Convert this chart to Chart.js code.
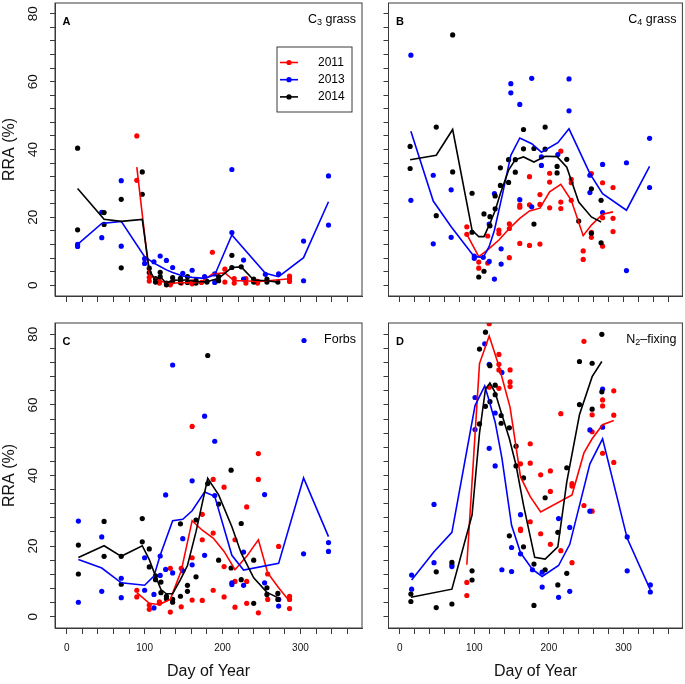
<!DOCTYPE html>
<html>
<head>
<meta charset="utf-8">
<script src="https://cdn.jsdelivr.net/npm/chart.js@4.4.1/dist/chart.umd.min.js"></script>
<style>
html,body{margin:0;padding:0;background:#fff;}
#wrap{position:relative;width:685px;height:684px;overflow:hidden;}
#wrap canvas{position:absolute;left:0;top:0;}
</style>
</head>
<body>
<div id="wrap">
  <canvas id="pA" width="685" height="684"></canvas>
  <canvas id="pB" width="685" height="684"></canvas>
  <canvas id="pC" width="685" height="684"></canvas>
  <canvas id="pD" width="685" height="684"></canvas>
</div>
<script>
// years / colours / ticks
const years = ['2011', '2013', '2014'];
const yearColors = ['#ff0000', '#0000ff', '#000000'];
const xTickLabels = [0, 100, 200, 300];
const yTickLabels = [0, 20, 40, 60, 80];

// [day of year, RRA %] -- A: C3 grass
const ptsA2011 = [[90,44.0],[90,30.9],[106,2.3],[106,1.2],[119,1.1],[119,0.6],[133,0.1],[133,0.6],[147,0.6],[161,0.4],[161,1.0],[173,0.8],[187,9.7],[203,4.7],[203,0.9],[215,1.9],[215,0.6],[230,1.9],[230,0.6],[245,1.1],[245,0.6],[286,2.7],[286,1.9],[286,1.1]];
const ptsA2013 = [[14,12.0],[14,11.4],[45,21.5],[45,14.0],[70,30.8],[70,11.5],[100,7.8],[100,6.4],[112,6.9],[120,8.6],[128,7.3],[136,5.2],[149,3.5],[161,4.4],[177,2.5],[190,3.3],[190,0.8],[212,34.1],[212,15.5],[227,7.4],[227,1.8],[255,3.2],[272,3.3],[304,13.0],[304,1.3],[336,32.2],[336,17.7]];
const ptsA2014 = [[14,40.4],[14,16.3],[48,21.4],[48,17.9],[70,25.3],[70,5.1],[97,33.4],[97,26.8],[106,5.0],[106,3.7],[114,1.9],[114,0.9],[120,3.8],[120,2.5],[128,0.6],[128,0.1],[136,2.2],[136,1.0],[146,2.0],[146,0.8],[155,2.5],[155,0.8],[166,1.4],[166,0.6],[180,1.1],[180,0.9],[195,2.5],[195,1.3],[212,8.8],[212,5.2],[224,5.4],[240,1.8],[240,0.9],[257,1.8],[257,0.9],[271,0.9]];
const lineA2011 = [[90,34.8],[106,3.0],[119,1.2],[133,0.5],[147,0.8],[161,0.6],[173,1.0],[187,3.3],[203,3.6],[215,1.3],[230,1.3],[245,1.0],[286,1.9]];
const lineA2013 = [[14,12.0],[45,18.2],[70,18.8],[100,8.4],[112,6.5],[120,5.5],[128,4.5],[136,3.7],[149,2.7],[161,2.3],[177,2.0],[190,3.0],[212,14.8],[255,3.5],[272,2.5],[304,8.1],[336,24.6]];
const lineA2014 = [[14,28.5],[48,19.4],[70,18.8],[97,19.4],[106,4.4],[114,1.4],[120,2.5],[128,0.5],[136,1.5],[146,1.4],[155,1.6],[166,1.0],[180,1.0],[195,2.0],[212,5.2],[224,5.4],[240,1.5],[257,1.3],[271,0.9]];

// B: C4 grass
const ptsB2011 = [[90,17.2],[90,15.0],[106,6.8],[106,5.0],[118,14.5],[118,6.5],[133,16.2],[133,15.2],[147,18.1],[147,16.7],[147,8.1],[161,23.6],[161,23.0],[161,12.3],[174,32.0],[174,23.7],[174,11.7],[188,26.7],[188,23.8],[188,12.1],[201,33.0],[201,30.4],[201,22.8],[216,39.5],[216,24.5],[216,22.6],[230,31.2],[230,30.2],[230,25.0],[246,10.1],[246,7.6],[257,32.9],[257,15.6],[257,14.1],[272,30.2],[272,19.9],[272,11.5],[286,28.8],[286,19.7],[286,15.8]];
const ptsB2013 = [[15,67.8],[15,25.0],[45,32.4],[45,12.2],[69,28.1],[69,14.1],[100,8.6],[100,7.9],[112,8.2],[120,18.0],[120,7.0],[127,27.0],[127,1.8],[136,10.7],[136,6.2],[149,59.4],[149,56.7],[161,53.3],[161,25.2],[177,61.0],[177,23.1],[190,37.8],[190,35.3],[212,38.5],[227,60.8],[227,51.4],[255,32.4],[255,27.3],[272,35.6],[272,21.4],[304,36.1],[304,4.3],[335,43.3],[335,28.8]];
const ptsB2014 = [[14,40.9],[14,34.4],[49,46.6],[49,20.5],[71,73.8],[71,33.4],[97,27.1],[97,15.6],[106,2.4],[113,21.0],[113,4.1],[121,20.2],[121,17.5],[128,26.3],[128,22.5],[135,34.6],[135,29.4],[146,37.0],[146,30.3],[155,37.0],[155,33.3],[166,45.9],[166,40.2],[180,40.3],[180,18.0],[195,46.6],[195,40.1],[211,35.0],[211,33.1],[224,37.1],[240,18.9],[257,28.4],[257,15.3],[270,25.0],[270,12.5]];
const lineB2011 = [[90,15.0],[106,8.4],[118,10.4],[133,13.3],[147,16.7],[161,19.7],[174,21.9],[188,22.7],[201,27.5],[216,29.7],[230,25.0],[246,14.6],[257,17.7],[272,20.9],[286,21.6]];
const lineB2013 = [[15,45.4],[45,24.8],[69,17.2],[100,8.4],[112,8.2],[120,11.4],[127,16.2],[138,27.0],[149,38.3],[161,43.4],[177,41.7],[190,39.2],[212,42.0],[227,46.1],[255,32.9],[272,27.0],[304,22.1],[335,35.0]];
const lineB2014 = [[14,37.0],[49,38.3],[71,45.9],[97,16.2],[106,14.3],[113,14.3],[121,18.2],[128,22.0],[135,27.0],[146,33.9],[155,37.0],[166,37.8],[180,36.3],[195,38.0],[211,37.9],[224,34.8],[240,24.5],[257,20.1],[270,18.6]];

// C: Forbs
const ptsC2011 = [[90,7.5],[90,5.6],[106,3.3],[106,2.1],[119,4.2],[119,3.8],[133,13.7],[133,1.3],[147,13.7],[147,2.8],[161,53.9],[161,16.7],[161,4.7],[174,29.0],[174,21.8],[174,4.6],[188,38.9],[188,23.7],[188,7.5],[202,36.7],[202,14.2],[202,5.6],[216,21.8],[216,10.0],[216,2.7],[231,31.1],[231,10.0],[231,3.8],[246,46.2],[246,38.9],[246,1.1],[258,12.1],[258,4.9],[272,19.9],[272,4.9],[286,5.8],[286,4.9],[286,2.3]];
const ptsC2013 = [[15,27.1],[15,4.1],[45,22.6],[45,7.2],[70,10.9],[70,5.4],[100,16.7],[100,7.5],[112,6.3],[112,2.5],[120,17.2],[120,11.7],[127,34.5],[127,13.4],[136,71.3],[136,12.4],[149,22.1],[149,13.0],[161,38.5],[161,14.7],[177,56.8],[177,17.4],[190,49.7],[190,34.3],[212,9.6],[212,9.1],[227,18.3],[227,8.9],[254,34.6],[254,9.6],[272,4.9],[272,3.0],[304,17.8],[336,21.0],[336,18.5]];
const ptsC2014 = [[15,20.3],[15,12.1],[48,27.0],[48,17.1],[70,17.1],[70,9.2],[97,27.8],[97,21.2],[106,19.2],[106,14.1],[114,11.6],[114,10.5],[121,9.8],[121,6.8],[128,5.8],[128,5.1],[136,4.9],[136,4.1],[146,26.3],[146,5.8],[155,8.9],[155,7.2],[166,27.4],[166,11.3],[181,74.0],[181,37.7],[195,31.9],[195,16.0],[211,41.5],[211,13.8],[224,26.4],[224,10.5],[240,16.0],[240,3.8],[257,8.2],[257,6.3],[271,6.6],[271,4.9]];
const lineC2011 = [[90,6.8],[106,3.8],[113,3.6],[119,3.5],[133,4.9],[147,13.0],[161,27.2],[174,24.5],[188,22.3],[202,18.5],[216,13.3],[231,17.1],[246,21.8],[258,12.4],[272,8.2],[286,4.4]];
const lineC2013 = [[15,16.2],[45,13.8],[70,9.6],[100,8.9],[112,11.5],[120,17.4],[136,27.2],[149,27.6],[161,30.0],[177,35.3],[190,34.1],[212,17.4],[227,13.2],[272,15.1],[304,39.3],[336,22.7]];
const lineC2014 = [[15,16.8],[48,20.1],[70,17.1],[97,20.1],[106,16.2],[114,11.5],[121,7.7],[128,6.5],[136,6.5],[146,10.5],[155,14.5],[166,24.1],[181,39.2],[195,34.5],[212,25.5],[224,18.0],[240,11.0],[257,6.9],[271,5.4]];

// D: N2-fixing
const ptsD2011 = [[90,9.7],[90,6.0],[120,83.0],[120,65.0],[133,74.3],[133,71.5],[133,69.9],[133,64.7],[148,69.9],[148,66.5],[148,65.2],[162,43.3],[162,24.8],[162,24.4],[175,49.0],[175,43.5],[175,26.9],[189,40.2],[189,23.5],[202,41.3],[202,35.5],[202,20.5],[216,57.5],[216,18.7],[231,37.7],[231,37.0],[231,15.3],[247,78.0],[247,31.5],[258,57.2],[258,52.4],[258,29.9],[272,61.4],[272,59.7],[272,46.3],[287,64.0],[287,57.1],[287,43.7]];
const ptsD2013 = [[16,11.8],[16,7.8],[46,31.8],[46,15.3],[70,14.7],[70,14.2],[101,62.1],[101,53.0],[114,77.3],[120,71.5],[120,47.7],[128,57.7],[128,42.7],[137,69.2],[137,13.3],[150,19.6],[150,12.8],[162,28.9],[162,17.8],[178,13.3],[191,12.6],[191,8.4],[213,27.8],[213,5.5],[228,25.3],[228,7.2],[255,52.9],[255,29.9],[272,64.5],[272,53.7],[305,22.6],[305,13.0],[336,9.0],[336,7.0]];
const ptsD2014 = [[15,6.4],[15,4.3],[49,12.7],[49,2.6],[70,15.4],[70,3.6],[97,13.0],[97,10.4],[107,75.8],[107,54.6],[115,80.6],[115,59.6],[121,71.1],[121,60.9],[128,65.6],[128,62.9],[136,57.0],[136,54.8],[147,53.5],[147,22.9],[156,48.3],[156,42.7],[166,39.3],[166,19.8],[180,14.9],[180,3.2],[195,33.7],[195,13.3],[212,23.9],[212,9.0],[224,42.2],[224,12.3],[241,72.3],[241,60.1],[258,71.8],[258,58.8],[271,80.0],[271,63.7]];
const lineD2011 = [[90,14.7],[107,71.7],[120,79.5],[133,71.0],[148,59.3],[162,39.6],[175,34.0],[189,29.7],[231,34.5],[247,46.4],[258,50.4],[272,54.4],[287,55.6]];
const lineD2013 = [[16,10.4],[46,18.4],[70,23.9],[101,59.8],[114,65.4],[120,61.2],[128,55.1],[137,45.0],[150,25.9],[162,18.1],[178,13.4],[191,11.4],[213,14.5],[228,20.5],[255,43.3],[272,50.4],[305,22.2],[336,7.6]];
const lineD2014 = [[15,5.5],[70,7.8],[97,28.8],[107,52.0],[115,64.5],[121,66.2],[128,63.5],[136,57.9],[147,50.5],[156,42.9],[166,31.6],[181,16.8],[195,16.3],[212,19.8],[224,38.2],[241,57.2],[258,68.0],[271,72.3]];

const FONT = "'Liberation Sans', Arial, Helvetica, sans-serif";
const AXIS = '#3a3a3a';

function toXY(arr){ return arr.map(p => ({x:p[0], y:p[1]})); }

function panelData(pts, lines){
  const ds = [];
  lines.forEach((l,i) => ds.push({ data:toXY(l), showLine:true, borderColor:yearColors[i], backgroundColor:yearColors[i],
    borderWidth:1.6, pointRadius:0, tension:0, clip:0, order:2-i }));
  pts.forEach((p,i) => ds.push({ data:toXY(p), showLine:false, backgroundColor:yearColors[i], borderWidth:0,
    pointRadius:2.6, pointHoverRadius:2.6, clip:0, order:5-i }));
  return ds;
}

// label text with a subscript part, right aligned
function drawParts(ctx, parts, right, y){
  let w = 0;
  parts.forEach(p => { ctx.font = (p.sub ? '9px ' : '12.5px ') + FONT; w += ctx.measureText(p.t).width; });
  let x = right - w;
  parts.forEach(p => {
    ctx.font = (p.sub ? '9px ' : '12.5px ') + FONT;
    ctx.fillText(p.t, x, y + (p.sub ? 3 : 0));
    x += ctx.measureText(p.t).width;
  });
}

function deco(o){
  return { id:'deco', afterDraw(chart){
    const {ctx, chartArea:a} = chart;
    ctx.save();
    ctx.strokeStyle = AXIS; ctx.lineWidth = 1;
    ctx.strokeRect(a.left, a.top, a.right - a.left, a.bottom - a.top);
    ctx.fillStyle = '#000'; ctx.textBaseline = 'middle'; ctx.textAlign = 'left';
    ctx.font = 'bold 11px ' + FONT;
    ctx.fillText(o.letter, a.left + 7.5, a.top + 19);
    if (o.dot){
      ctx.beginPath(); ctx.arc(o.dot[0], o.dot[1], 2.6, 0, Math.PI*2);
      ctx.fillStyle = o.dot[2]; ctx.fill(); ctx.fillStyle = '#000';
    }
    drawParts(ctx, o.label, a.right - 6, a.top + 17);
    if (o.legend){
      const L = o.legend;
      ctx.strokeStyle = AXIS; ctx.lineWidth = 1;
      ctx.strokeRect(L.x, L.y, L.w, L.h);
      ctx.font = '12px ' + FONT;
      years.forEach((yr,i) => {
        const ry = L.y + 15.5 + i*17.2;
        ctx.strokeStyle = yearColors[i]; ctx.lineWidth = 1.6;
        ctx.beginPath(); ctx.moveTo(L.x + 3, ry); ctx.lineTo(L.x + 21, ry); ctx.stroke();
        ctx.beginPath(); ctx.arc(L.x + 12, ry, 2.6, 0, Math.PI*2); ctx.fillStyle = yearColors[i]; ctx.fill();
        ctx.fillStyle = '#000';
        ctx.fillText(yr, L.x + 41, ry);
      });
    }
    ctx.restore();
  }};
}

function panel(id, box, ds, o){
  const yW = o.yLabels ? 55 : 20;
  const xH = o.xLabels ? 56 : 20;
  new Chart(document.getElementById(id), {
    type:'scatter',
    data:{ datasets:ds },
    options:{
      responsive:false, animation:false, events:[],
      layout:{ padding:{ left:box.l - yW, top:box.t, right:685 - box.r, bottom:684 - box.b - xH } },
      plugins:{ legend:{display:false}, tooltip:{enabled:false} },
      scales:{
        x:{ type:'linear', min:-15, max:379,
          afterFit(s){ s.height = xH; s.paddingLeft = 0; s.paddingRight = 0; },
          grid:{ drawOnChartArea:false, tickLength:6, color:AXIS },
          border:{ color:AXIS },
          ticks:{ display:o.xLabels, stepSize:20, includeBounds:false, autoSkip:false, minRotation:0, maxRotation:0,
            padding:8, color:'#111', font:{family:FONT, size:10},
            callback:v => xTickLabels.includes(v) ? String(v) : '' },
          title:{ display:o.xLabels, text:'Day of Year', color:'#111', font:{family:FONT, size:16}, padding:{top:0, bottom:2.4} }
        },
        y:{ type:'linear', min:-3.2, max:83.2,
          afterFit(s){ s.width = yW; s.paddingTop = 0; s.paddingBottom = 0; },
          grid:{ drawOnChartArea:false, tickLength:5, color:AXIS },
          border:{ color:AXIS },
          ticks:{ display:o.yLabels, stepSize:4, includeBounds:false, autoSkip:false, minRotation:90, maxRotation:90,
            crossAlign:'center', padding:9, color:'#111', font:{family:FONT, size:13.5},
            callback:v => yTickLabels.includes(v) ? String(v) : '' },
          title:{ display:o.yLabels, text:'RRA (%)', color:'#111', font:{family:FONT, size:16}, padding:{top:0.4, bottom:0} }
        }
      }
    },
    plugins:[deco(o)]
  });
}

panel('pA', {l:55, t:3, r:362, b:296},
  panelData([ptsA2011, ptsA2013, ptsA2014], [lineA2011, lineA2013, lineA2014]),
  { letter:'A', yLabels:true, xLabels:false, label:[{t:'C'},{t:'3',sub:true},{t:' grass'}],
    legend:{x:277, y:47, w:75, h:65} });
panel('pB', {l:388.5, t:3, r:683, b:296},
  panelData([ptsB2011, ptsB2013, ptsB2014], [lineB2011, lineB2013, lineB2014]),
  { letter:'B', yLabels:false, xLabels:false, label:[{t:'C'},{t:'4',sub:true},{t:' grass'}] });
panel('pC', {l:55, t:323, r:362, b:628},
  panelData([ptsC2011, ptsC2013, ptsC2014], [lineC2011, lineC2013, lineC2014]),
  { letter:'C', yLabels:true, xLabels:true, label:[{t:'Forbs'}], dot:[304, 340.5, '#0000ff'] });
panel('pD', {l:388.5, t:323, r:683, b:628},
  panelData([ptsD2011, ptsD2013, ptsD2014], [lineD2011, lineD2013, lineD2014]),
  { letter:'D', yLabels:false, xLabels:true, label:[{t:'N'},{t:'2',sub:true},{t:'\u2013fixing'}] });
</script>
</body>
</html>
